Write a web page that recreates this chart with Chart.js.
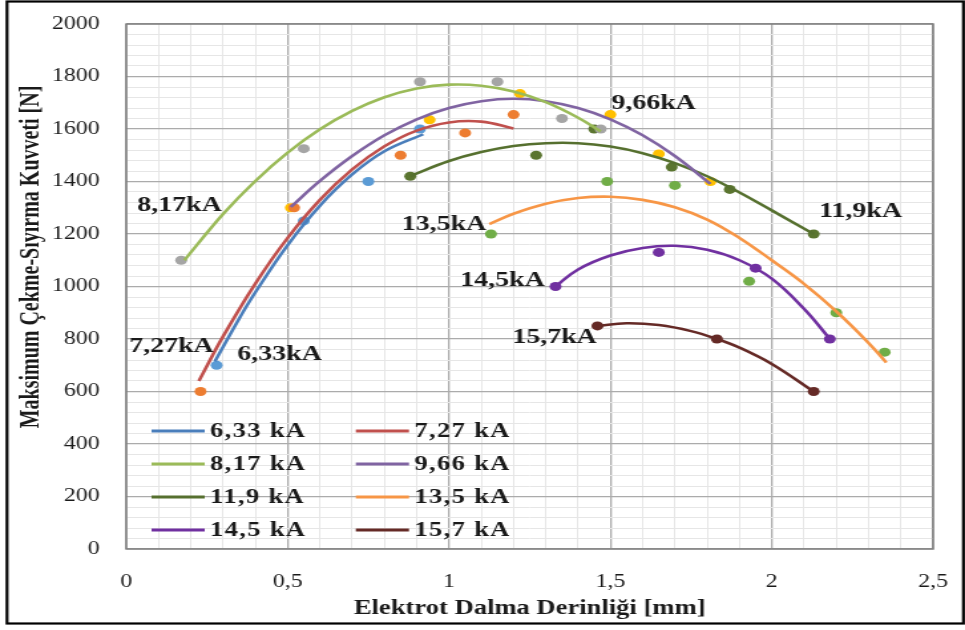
<!DOCTYPE html>
<html>
<head>
<meta charset="utf-8">
<script src="https://cdn.jsdelivr.net/npm/chart.js@4.4.1/dist/chart.umd.min.js"></script>
<style>
  html, body { margin: 0; padding: 0; background: #fff; overflow: hidden; }
  /* the figure is drawn narrow and stretched sideways, like the original export */
  #wrap { width: 726px; height: 630px; transform: scaleX(1.3292); transform-origin: 0 0; }
</style>
</head>
<body>
<div id="wrap"><canvas id="myChart" width="726" height="630"></canvas></div>
<script>
// kaynak akımları (legend sırası)
let seriesNames = ['6,33 kA', '7,27 kA', '8,17 kA', '9,66 kA', '11,9 kA', '13,5 kA', '14,5 kA', '15,7 kA'];
let curveLabels = ['6,33kA', '7,27kA', '8,17kA', '9,66kA', '11,9kA', '13,5kA', '14,5kA', '15,7kA'];

// ölçülen noktalar: daldırma derinliği [mm] / çekme kuvveti [N]
let markX = [
    [0.28, 0.55, 0.75, 0.91],
    [0.23, 0.52, 0.85, 1.05, 1.2],
    [0.17, 0.55, 0.91, 1.15, 1.35, 1.47],
    [0.51, 0.94, 1.22, 1.5, 1.65, 1.81],
    [0.88, 1.27, 1.45, 1.69, 1.87, 2.13],
    [1.13, 1.49, 1.7, 1.93, 2.2, 2.35],
    [1.33, 1.65, 1.95, 2.18],
    [1.46, 1.83, 2.13]
];
let markY = [
    [700, 1250, 1400, 1600],
    [600, 1300, 1500, 1585, 1655],
    [1100, 1525, 1780, 1780, 1640, 1600],
    [1300, 1635, 1735, 1655, 1505, 1400],
    [1420, 1500, 1600, 1455, 1370, 1200],
    [1200, 1400, 1385, 1020, 900, 750],
    [1000, 1130, 1070, 800],
    [850, 800, 600]
];

// eğilim çizgileri (polinom trend) üzerinden okunan değerler
let fitX = [
    [0.275, 0.35, 0.4, 0.5, 0.6, 0.7, 0.8, 0.92],
    [0.225, 0.3, 0.4, 0.5, 0.6, 0.7, 0.8, 0.9, 1.0, 1.1, 1.2],
    [0.18, 0.3, 0.4, 0.5, 0.6, 0.7, 0.8, 0.9, 1.0, 1.1, 1.2, 1.3, 1.4, 1.47],
    [0.51, 0.6, 0.7, 0.8, 0.9, 1.0, 1.1, 1.2, 1.3, 1.4, 1.5, 1.6, 1.7, 1.81],
    [0.88, 1.0, 1.1, 1.2, 1.3, 1.4, 1.5, 1.6, 1.7, 1.8, 1.9, 2.0, 2.13],
    [1.125, 1.2, 1.3, 1.4, 1.5, 1.6, 1.7, 1.8, 1.9, 2.0, 2.1, 2.2, 2.3, 2.355],
    [1.33, 1.4, 1.5, 1.6, 1.7, 1.8, 1.9, 2.0, 2.1, 2.18],
    [1.46, 1.55, 1.65, 1.75, 1.83, 1.9, 2.0, 2.13]
];
let fitY = [
    [715, 878, 978, 1158, 1308, 1427, 1515, 1580],
    [640, 810, 1011, 1185, 1330, 1446, 1534, 1594, 1625, 1628, 1602],
    [1100, 1276, 1402, 1510, 1599, 1669, 1721, 1754, 1769, 1765, 1743, 1702, 1643, 1591],
    [1303, 1402, 1497, 1576, 1637, 1680, 1706, 1715, 1706, 1680, 1637, 1576, 1497, 1391],
    [1421, 1478, 1512, 1535, 1546, 1546, 1533, 1508, 1470, 1420, 1358, 1290, 1200],
    [1238, 1277, 1315, 1337, 1342, 1330, 1302, 1255, 1185, 1100, 1010, 905, 785, 710],
    [1000, 1065, 1118, 1147, 1155, 1140, 1100, 1030, 915, 800],
    [850, 860, 853, 830, 800, 767, 705, 600]
];

const lineColors = ['#4A7EBB', '#C0504D', '#9BBB59', '#8064A2', '#56702F', '#F79646', '#7030A0', '#652A26'];
const markColors = ['#5B9BD5', '#ED7D31', '#A5A5A5', '#FFC000', '#5B7530', '#70AD47', '#7030A0', '#652A26'];

// etiketlerin eğri yanındaki yerleri (eksen birimleriyle, merkez)
const labelSpots = [[0.475, 739], [0.14, 770], [0.165, 1310], [1.634, 1695], [2.275, 1284], [0.985, 1234], [1.166, 1021], [1.327, 804]];

const SERIF = "'Liberation Serif', 'Times New Roman', serif";
Chart.defaults.font.family = SERIF;
Chart.defaults.color = '#1a1a1a';

const isMajor = (v, step) => Math.abs(v / step - Math.round(v / step)) < 1e-6;
const gridColor = step => c => (c.tick && isMajor(c.tick.value, step)) ? '#ABABAB' : '#E6E6E6';
const gridWidth = step => c => (c.tick && isMajor(c.tick.value, step)) ? 1.3 : 1;

let datasets = [];
// trend çizgileri önce: dizide öndekiler en üstte çizilir
seriesNames.forEach((name, i) => {
    datasets.push({
        type: 'line',
        label: name,
        data: fitX[i].map((x, j) => ({x: x, y: fitY[i][j]})),
        borderColor: lineColors[i],
        backgroundColor: lineColors[i],
        borderWidth: 2.6,
        pointRadius: 0,
        tension: 0.4,
        fill: false
    });
});
seriesNames.forEach((name, i) => {
    datasets.push({
        type: 'scatter',
        label: name + ' ölçüm',
        data: markX[i].map((x, j) => ({x: x, y: markY[i][j]})),
        backgroundColor: markColors[i],
        borderWidth: 0,
        pointRadius: 4.5
    });
});

const decorations = {
    id: 'decorations',
    beforeDatasetsDraw(chart) {
        const a = chart.chartArea, ctx = chart.ctx;
        ctx.save();
        ctx.strokeStyle = '#7F7F7F';
        ctx.lineWidth = 1.5;
        ctx.strokeRect(a.left, a.top, a.right - a.left, a.bottom - a.top);
        ctx.restore();
    },
    afterDraw(chart) {
        const a = chart.chartArea, ctx = chart.ctx;
        const xs = chart.scales.x, ys = chart.scales.y;
        ctx.save();

        // dış çerçeve
        ctx.strokeStyle = '#000';
        ctx.lineWidth = 2.2;
        ctx.strokeRect(5.3, 1.5, 719.5, 622);

        // dikey eksen başlığı
        ctx.fillStyle = '#1a1a1a';
        ctx.font = 'bold 20px ' + SERIF;
        ctx.textAlign = 'center';
        ctx.textBaseline = 'middle';
        ctx.save();
        ctx.translate(23.5, 257);
        ctx.rotate(-Math.PI / 2);
        ctx.fillText('Maksimum Çekme-Sıyırma Kuvveti [N]', 0, 0);
        ctx.restore();

        // eğri etiketleri
        ctx.font = 'bold 21px ' + SERIF;
        curveLabels.forEach((t, i) => {
            ctx.fillText(t, xs.getPixelForValue(labelSpots[i][0]), ys.getPixelForValue(labelSpots[i][1]));
        });

        // lejant: 2 sütun x 4 satır, çizim alanının sol altında
        ctx.font = 'bold 20px ' + SERIF;
        ctx.textAlign = 'left';
        ctx.letterSpacing = '1px';
        seriesNames.forEach((name, i) => {
            const col = i % 2, row = Math.floor(i / 2);
            const x0 = a.left + 19 + col * 153.7;
            const y0 = a.bottom - 118 + row * 33;
            ctx.strokeStyle = lineColors[i];
            ctx.lineWidth = 3;
            ctx.beginPath();
            ctx.moveTo(x0, y0);
            ctx.lineTo(x0 + 40, y0);
            ctx.stroke();
            ctx.fillText(name, x0 + 44, y0 + 1);
        });
        ctx.letterSpacing = '0px';
        ctx.restore();
    }
};

let chartElement = document.getElementById('myChart').getContext('2d');

// etiket boşluğu görünmez tick uzunluğuyla veriliyor (padding çizim alanını daraltıyor)
let myChart = new Chart(chartElement, {
    type: 'scatter',
    data: { datasets: datasets },
    options: {
        responsive: false,
        animation: false,
        events: [],
        layout: { padding: { left: 0, right: 24, top: 24, bottom: 0 } },
        plugins: {
            legend: { display: false },
            tooltip: { enabled: false }
        },
        scales: {
            x: {
                type: 'linear',
                min: 0,
                max: 2.5,
                afterFit: s => { s.height = 81; },
                border: { display: false },
                grid: {
                    drawTicks: true,
                    tickLength: 22,
                    tickColor: 'rgba(0,0,0,0)',
                    color: gridColor(0.5),
                    lineWidth: gridWidth(0.5)
                },
                ticks: {
                    stepSize: 0.1,
                    autoSkip: false,
                    maxRotation: 0,
                    padding: 0,
                    color: '#1a1a1a',
                    font: { size: 18 },
                    callback: v => isMajor(v, 0.5) ? String(Math.round(v * 10) / 10).replace('.', ',') : ''
                },
                title: {
                    display: true,
                    text: 'Elektrot Dalma Derinliği [mm]',
                    color: '#1a1a1a',
                    font: { size: 20, weight: 'bold' },
                    padding: { top: 0, bottom: 9 }
                }
            },
            y: {
                min: 0,
                max: 2000,
                afterFit: s => { s.width = 95; },
                border: { display: false },
                grid: {
                    drawTicks: true,
                    tickLength: 20,
                    tickColor: 'rgba(0,0,0,0)',
                    color: gridColor(200),
                    lineWidth: gridWidth(200)
                },
                ticks: {
                    stepSize: 40,
                    autoSkip: false,
                    padding: 0,
                    color: '#1a1a1a',
                    font: { size: 18 },
                    callback: v => isMajor(v, 200) ? String(v) : ''
                }
            }
        }
    },
    plugins: [decorations]
});
</script>
</body>
</html>
